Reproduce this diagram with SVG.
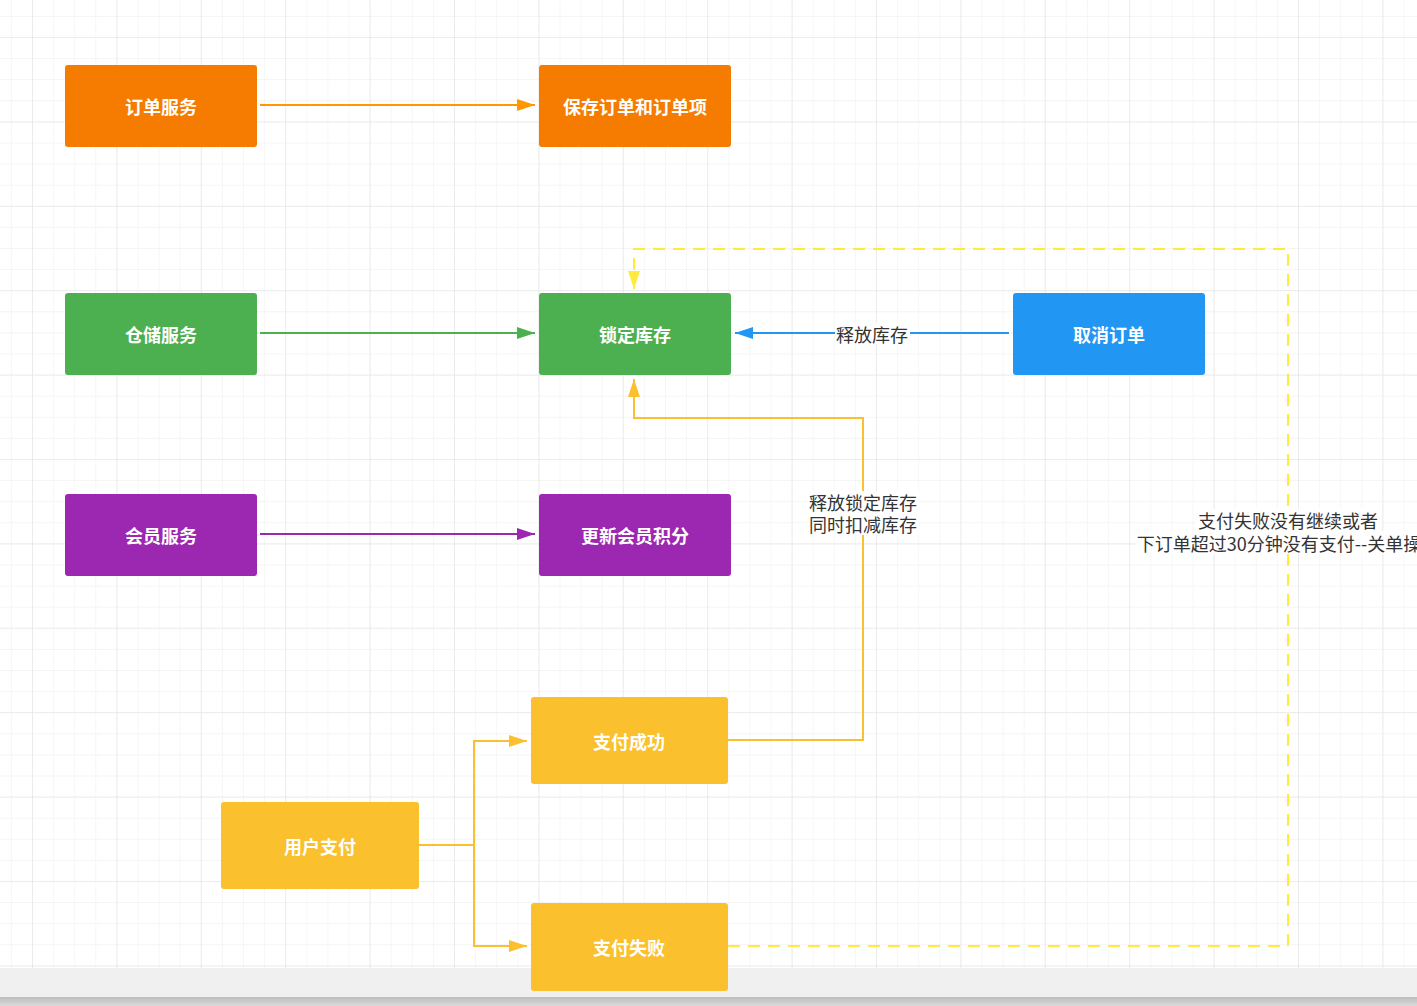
<svg xmlns="http://www.w3.org/2000/svg" width="1417" height="1006" viewBox="0 0 1417 1006">
<style>
.node rect{rx:3;ry:3}
.nt{font-family:"Noto Sans CJK SC","Microsoft YaHei",sans-serif;font-size:18px;font-weight:bold;fill:#ffffff;text-anchor:middle;dominant-baseline:central}
.lt{font-family:"Noto Sans CJK SC","Microsoft YaHei",sans-serif;font-size:18px;fill:#333333;text-anchor:middle;dominant-baseline:central}
.e{fill:none;stroke-width:2}
</style>
<defs>
<pattern id="minor" patternUnits="userSpaceOnUse" x="32" y="37" width="21.1" height="21.1">
<path d="M0,0 V21.1 M0,0 H21.1" stroke="#f1f1f1" stroke-width="1.2" fill="none"/>
</pattern>
<pattern id="major" patternUnits="userSpaceOnUse" x="32" y="37" width="84.4" height="84.4">
<path d="M0,0 V84.4 M0,0 H84.4" stroke="#e4e4e4" stroke-width="1.2" fill="none"/>
</pattern>
<linearGradient id="bar" x1="0" y1="0" x2="0" y2="1">
<stop offset="0" stop-color="#bdbdbd"/>
<stop offset="1" stop-color="#dadada"/>
</linearGradient>
<marker id="aO" markerUnits="userSpaceOnUse" markerWidth="18" markerHeight="12" refX="18" refY="6" orient="auto"><path d="M0,0 L18,6 L0,12 z" fill="#ff9800"/></marker>
<marker id="aG" markerUnits="userSpaceOnUse" markerWidth="18" markerHeight="12" refX="18" refY="6" orient="auto"><path d="M0,0 L18,6 L0,12 z" fill="#4caf50"/></marker>
<marker id="aP" markerUnits="userSpaceOnUse" markerWidth="18" markerHeight="12" refX="18" refY="6" orient="auto"><path d="M0,0 L18,6 L0,12 z" fill="#9c27b0"/></marker>
<marker id="aB" markerUnits="userSpaceOnUse" markerWidth="18" markerHeight="12" refX="18" refY="6" orient="auto"><path d="M0,0 L18,6 L0,12 z" fill="#2196f3"/></marker>
<marker id="aY" markerUnits="userSpaceOnUse" markerWidth="18" markerHeight="12" refX="18" refY="6" orient="auto"><path d="M0,0 L18,6 L0,12 z" fill="#fbc02d"/></marker>
<marker id="aL" markerUnits="userSpaceOnUse" markerWidth="18" markerHeight="12" refX="18" refY="6" orient="auto"><path d="M0,0 L18,6 L0,12 z" fill="#ffeb3b"/></marker>
</defs>
<rect x="0" y="0" width="1417" height="968" fill="#ffffff"/>
<rect x="0" y="0" width="1417" height="968" fill="url(#minor)"/>
<rect x="0" y="0" width="1417" height="968" fill="url(#major)"/>
<rect x="0" y="968" width="1417" height="29" fill="#f0f0f0"/>
<rect x="0" y="997" width="1417" height="9" fill="url(#bar)"/>

<g id="connectors">
<path class="e" d="M260,105 H535" stroke="#ff9800" marker-end="url(#aO)"/>
<path class="e" d="M260,333 H535" stroke="#4caf50" marker-end="url(#aG)"/>
<path class="e" d="M260,534 H535" stroke="#9c27b0" marker-end="url(#aP)"/>
<path class="e" d="M1009,333 H735" stroke="#2196f3" marker-end="url(#aB)"/>
<path class="e" d="M728,740 H863 V418 H634 V379" stroke="#fbc02d" marker-end="url(#aY)"/>
<path class="e" d="M419,845 H474 V741 H527" stroke="#fbc02d" marker-end="url(#aY)"/>
<path class="e" d="M474,845 V946 H527" stroke="#fbc02d" marker-end="url(#aY)"/>
<path class="e" d="M728,946 H1288 V249 H634 V289" stroke="#ffeb3b" stroke-dasharray="12 8" marker-end="url(#aL)"/>
<g id="edge-labels">
<rect x="835" y="323" width="75" height="21" fill="#ffffff"/>
<text class="lt" x="872" y="334">释放库存</text>
<rect x="807" y="491" width="112" height="44" fill="#ffffff"/>
<text class="lt" x="863" y="502">释放锁定库存</text>
<text class="lt" x="863" y="524">同时扣减库存</text>
<rect x="1196" y="509" width="184" height="22" fill="#ffffff"/>
<rect x="1136" y="531" width="281" height="23" fill="#ffffff"/>
<text class="lt" x="1288" y="520">支付失败没有继续或者</text>
<text class="lt" x="1288" y="543">下订单超过30分钟没有支付--关单操作</text>
</g>
</g>

<g id="n-order" class="node"><rect x="65" y="65" width="192" height="82" fill="#f57c00"/><text class="nt" x="161" y="106">订单服务</text></g>
<g id="n-save" class="node"><rect x="539" y="65" width="192" height="82" fill="#f57c00"/><text class="nt" x="635" y="106">保存订单和订单项</text></g>
<g id="n-warehouse" class="node"><rect x="65" y="293" width="192" height="82" fill="#4caf50"/><text class="nt" x="161" y="334">仓储服务</text></g>
<g id="n-lock" class="node"><rect x="539" y="293" width="192" height="82" fill="#4caf50"/><text class="nt" x="635" y="334">锁定库存</text></g>
<g id="n-cancel" class="node"><rect x="1013" y="293" width="192" height="82" fill="#2196f3"/><text class="nt" x="1109" y="334">取消订单</text></g>
<g id="n-member" class="node"><rect x="65" y="494" width="192" height="82" fill="#9c27b0"/><text class="nt" x="161" y="535">会员服务</text></g>
<g id="n-points" class="node"><rect x="539" y="494" width="192" height="82" fill="#9c27b0"/><text class="nt" x="635" y="535">更新会员积分</text></g>
<g id="n-paysuccess" class="node"><rect x="531" y="697" width="197" height="87" fill="#fbc02d"/><text class="nt" x="629" y="741">支付成功</text></g>
<g id="n-userpay" class="node"><rect x="221" y="802" width="198" height="87" fill="#fbc02d"/><text class="nt" x="320" y="846">用户支付</text></g>
<g id="n-payfail" class="node"><rect x="531" y="903" width="197" height="88" fill="#fbc02d"/><text class="nt" x="629" y="947">支付失败</text></g>
</svg>
